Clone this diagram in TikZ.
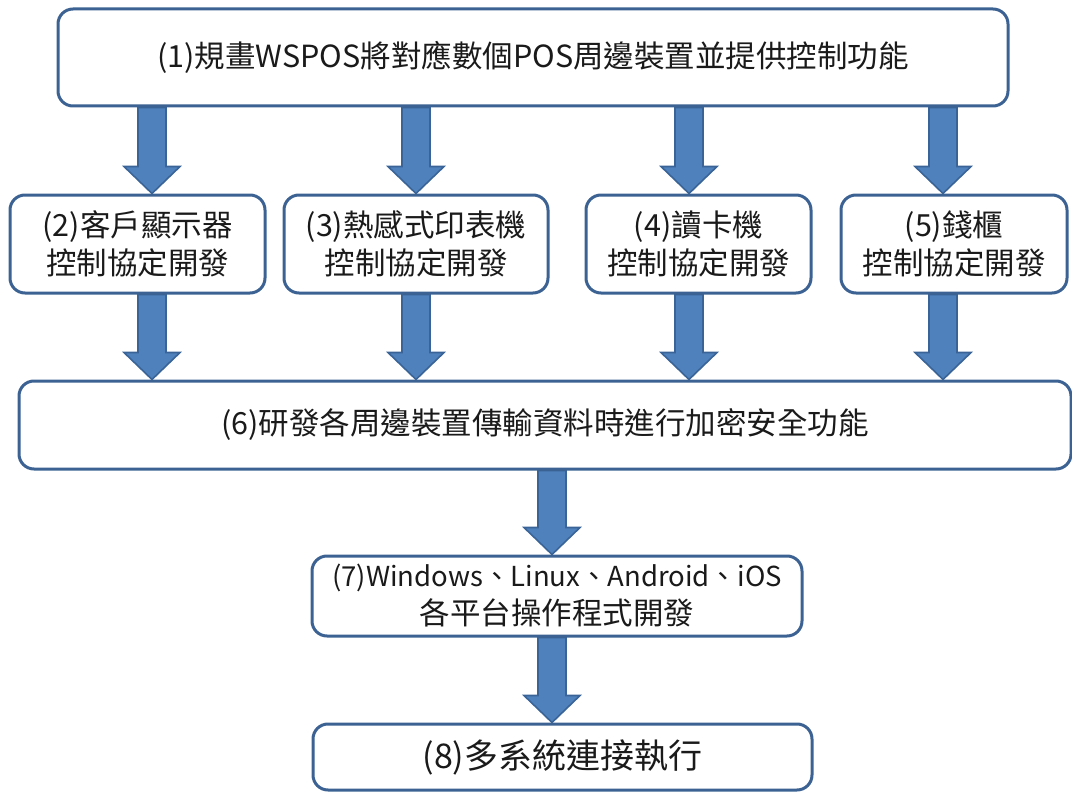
\documentclass[tikz,border=0pt]{standalone}
\usepackage{fontspec}
\setmainfont{Noto Sans CJK TC}
\usetikzlibrary{calc}
\pgfdeclarelayer{background}
\pgfsetlayers{background,main}
\definecolor{boxline}{HTML}{3B6292}
\definecolor{arrowfill}{HTML}{4F81BD}
\definecolor{arrowline}{HTML}{3A6497}
\definecolor{txt}{HTML}{1A1A1A}
\tikzset{
  box/.style={draw=boxline, line width=3pt, rounded corners=15pt, fill=white,
    text=txt, font=\fontsize{30.5}{38}\selectfont, align=center, inner sep=0pt},
  barrowstyle/.style={fill=arrowfill, draw=arrowline, line width=1.6pt, line join=miter}
}
\newcommand\blockarrow[3]{%
  \path let \p1=(#2.south), \p2=(#3.north) in
    [barrowstyle] ({#1pt-14pt},\y1) -- ({#1pt+14pt},\y1) -- ({#1pt+14pt},\y2+27pt)
    -- ({#1pt+28pt},\y2+27pt) -- (#1pt,\y2) -- ({#1pt-28pt},\y2+27pt)
    -- ({#1pt-14pt},\y2+27pt) -- cycle;%
}
\begin{document}
\begin{tikzpicture}[x=1pt,y=-1pt]
\useasboundingbox (0,0) rectangle (1072,792);
\node[box, minimum width=950pt, minimum height=97pt] (n1) at (533,57.5)
  {(1)規畫WSPOS將對應數個POS周邊裝置並提供控制功能};
\node[box, minimum width=255pt, minimum height=98pt] (n2) at (137.5,244)
  {(2)客戶顯示器\\控制協定開發};
\node[box, minimum width=264pt, minimum height=98pt] (n3) at (416,244)
  {(3)熱感式印表機\\控制協定開發};
\node[box, minimum width=225pt, minimum height=98pt] (n4) at (698.5,244)
  {(4)讀卡機\\控制協定開發};
\node[box, minimum width=226pt, minimum height=98pt] (n5) at (954,244)
  {(5)錢櫃\\控制協定開發};
\node[box, minimum width=1052pt, minimum height=88pt] (n6) at (545,425)
  {(6)研發各周邊裝置傳輸資料時進行加密安全功能};
\node[box, minimum width=490pt, minimum height=80pt] (n7) at (557,596)
  {{\fontsize{27.5}{37}\selectfont (7)Windows、Linux、Android、iOS}\\各平台操作程式開發};
\node[box, minimum width=499pt, minimum height=66pt, font=\fontsize{34}{40}\selectfont] (n8) at (562.5,757)
  {(8)多系統連接執行};
\begin{pgfonlayer}{background}
\blockarrow{152}{n1}{n2}
\blockarrow{416}{n1}{n3}
\blockarrow{689}{n1}{n4}
\blockarrow{943}{n1}{n5}
\blockarrow{152}{n2}{n6}
\blockarrow{416}{n3}{n6}
\blockarrow{689}{n4}{n6}
\blockarrow{943}{n5}{n6}
\blockarrow{552}{n6}{n7}
\blockarrow{552}{n7}{n8}
\end{pgfonlayer}
\end{tikzpicture}
\end{document}
